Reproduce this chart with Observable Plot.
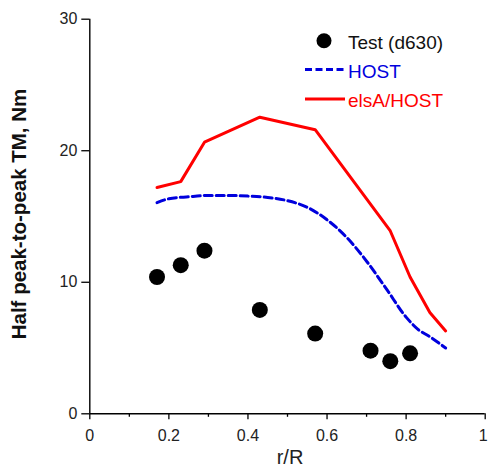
<!DOCTYPE html>
<html>
<head>
<meta charset="utf-8">
<script src="https://cdn.jsdelivr.net/npm/d3@7"></script>
<script src="https://cdn.jsdelivr.net/npm/@observablehq/plot@0.6"></script>
<style>
  html, body { margin: 0; padding: 0; background: #fff; }
  #chart { width: 488px; height: 470px; }
</style>
</head>
<body>
<div id="chart"></div>
<script>
// ---- data ----
const testR  = [0.17, 0.23, 0.29, 0.43, 0.57, 0.71, 0.76, 0.81];
const testTM = [10.4, 11.3, 12.4, 7.9, 6.1, 4.8, 4.0, 4.6];

const hostR  = [0.17, 0.20, 0.25, 0.30, 0.35, 0.40, 0.45, 0.50, 0.55, 0.60, 0.65, 0.70, 0.75, 0.80, 0.83, 0.86, 0.90];
const hostTM = [16.05, 16.35, 16.5, 16.6, 16.6, 16.55, 16.45, 16.2, 15.7, 14.75, 13.4, 11.6, 9.5, 7.35, 6.42, 5.86, 5.0];

const elsaR  = [0.17, 0.23, 0.29, 0.43, 0.57, 0.76, 0.81, 0.86, 0.90];
const elsaTM = [17.2, 17.65, 20.65, 22.55, 21.6, 13.9, 10.4, 7.7, 6.3];

const xTicks = [0, 0.2, 0.4, 0.6, 0.8, 1];
const xMinorTicks = [0.1, 0.3, 0.5, 0.7, 0.9];
const yTicks = [0, 10, 20, 30];

const xLabel = "r/R";
const yLabel = "Half peak-to-peak TM, Nm";
const legendLabels = ["Test (d630)", "HOST", "elsA/HOST"];
const seriesColors = ["#000000", "#0000dd", "#ff0000"];

// ---- tables ----
const test = testR.map((r, i) => ({r, tm: testTM[i]}));
const host = hostR.map((r, i) => ({r, tm: hostTM[i]}));
const elsa = elsaR.map((r, i) => ({r, tm: elsaTM[i]}));

const FONT = "'Liberation Sans', Arial, sans-serif";
const fmtX = d => String(+d.toFixed(1));
const lastX = xTicks[xTicks.length - 1];

const chart = Plot.plot({
  width: 488,
  height: 470,
  marginLeft: 89.3,
  marginRight: 3.3,
  marginTop: 18.7,
  marginBottom: 56.7,
  style: {fontFamily: FONT, background: "#fff", overflow: "visible"},
  x: {domain: [0, 1]},
  y: {domain: [0, 30]},
  marks: [
    Plot.axisX({ticks: xTicks, tickSize: 6, text: null, label: null, stroke: "#000", strokeWidth: 1.3}),
    Plot.axisX({ticks: xTicks.filter(d => d !== lastX), tickSize: 6, tickPadding: 10, fontSize: 16,
      label: null, tickFormat: fmtX, stroke: "none", fill: "#222"}),
    Plot.axisX({ticks: [lastX], tickSize: 6, tickPadding: 10, fontSize: 16, dx: -2,
      label: null, tickFormat: fmtX, stroke: "none", fill: "#222"}),
    Plot.axisX({ticks: xMinorTicks, tickSize: 3.5, text: null, label: null, stroke: "#000", strokeWidth: 1.3}),
    Plot.axisY({ticks: yTicks, tickSize: 8, tickPadding: 4.5, fontSize: 16, label: null,
      stroke: "#000", strokeWidth: 1.3, fill: "#222"}),
    Plot.ruleY([0], {stroke: "#000", strokeWidth: 1.4}),
    Plot.ruleX([0], {stroke: "#000", strokeWidth: 1.4}),
    Plot.line(host, {x: "r", y: "tm", stroke: seriesColors[1], strokeWidth: 3,
      strokeDasharray: "8,4", curve: "monotone-x"}),
    Plot.line(elsa, {x: "r", y: "tm", stroke: seriesColors[2], strokeWidth: 3, strokeLinejoin: "miter"}),
    Plot.dot(test, {x: "r", y: "tm", r: 8, fill: seriesColors[0], stroke: null}),
    Plot.text([yLabel], {frameAnchor: "left", textAnchor: "middle", lineAnchor: "middle",
      rotate: -90, dx: -70.5, dy: -2.5, fontSize: 20.5, fontWeight: "bold", fill: "#111"}),
    Plot.text([xLabel], {frameAnchor: "bottom", textAnchor: "middle", lineAnchor: "middle",
      dx: 2.5, dy: 43.5, fontSize: 20, fill: "#222"})
  ]
});

document.getElementById("chart").appendChild(chart);

// ---- legend (inside plot, top right) ----
const svg = d3.select(chart);
const lg = svg.append("g").attr("font-family", FONT).attr("font-size", 19).attr("text-anchor", "start");
lg.append("circle").attr("cx", 324).attr("cy", 40.7).attr("r", 7.5).attr("fill", seriesColors[0]);
lg.append("text").attr("x", 348).attr("y", 48.5).attr("fill", "#111").text(legendLabels[0]);
lg.append("line").attr("x1", 305).attr("x2", 345).attr("y1", 69.5).attr("y2", 69.5)
  .attr("stroke", seriesColors[1]).attr("stroke-width", 3).attr("stroke-dasharray", "7,3.5");
lg.append("text").attr("x", 348).attr("y", 77.8).attr("fill", seriesColors[1]).text(legendLabels[1]);
lg.append("line").attr("x1", 305).attr("x2", 345).attr("y1", 99).attr("y2", 99)
  .attr("stroke", seriesColors[2]).attr("stroke-width", 3);
lg.append("text").attr("x", 348).attr("y", 107).attr("fill", seriesColors[2]).text(legendLabels[2]);
</script>
</body>
</html>
